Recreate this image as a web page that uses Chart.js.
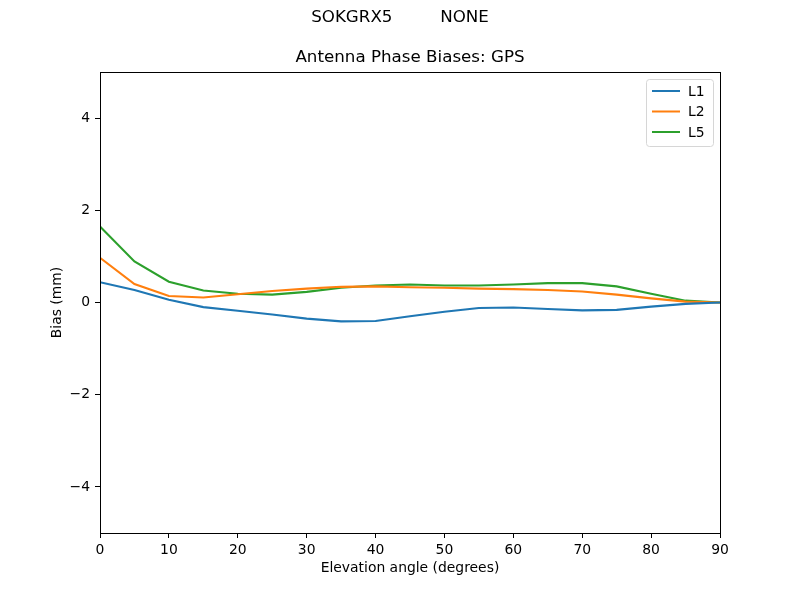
<!DOCTYPE html>
<html>
<head>
<meta charset="utf-8">
<script src="https://cdn.jsdelivr.net/npm/chart.js@4/dist/chart.umd.min.js"></script>
<style>
  html, body { margin: 0; padding: 0; background: #fff; }
</style>
</head>
<body>
<canvas id="chart" width="800" height="600"></canvas>
<script>
const elevation = [0, 5, 10, 15, 20, 25, 30, 35, 40, 45, 50, 55, 60, 65, 70, 75, 80, 85, 90];
const l1 = [0.44, 0.27, 0.06, -0.10, -0.18, -0.26, -0.35, -0.41, -0.40, -0.30, -0.20, -0.12, -0.11, -0.14, -0.17, -0.16, -0.09, -0.03, 0.0];
const l2 = [0.97, 0.40, 0.14, 0.11, 0.18, 0.25, 0.30, 0.34, 0.35, 0.33, 0.32, 0.30, 0.29, 0.27, 0.24, 0.17, 0.09, 0.02, 0.0];
const l5 = [1.65, 0.89, 0.45, 0.26, 0.19, 0.17, 0.23, 0.32, 0.37, 0.39, 0.37, 0.37, 0.39, 0.42, 0.42, 0.35, 0.19, 0.04, 0.0];
const yTicks = [-4, -2, 0, 2, 4];
const figTitle = 'SOKGRX5         NONE';
const axTitle = 'Antenna Phase Biases: GPS';

const FONT = 'DejaVu Sans';

function toPoints(ys) {
  return elevation.map((x, i) => ({ x: x, y: ys[i] }));
}

// box around the plot (matplotlib spines) + the two titles
const framePlugin = {
  id: 'frame',
  afterDatasetsDraw(chart) {
    const { ctx, chartArea: a } = chart;
    ctx.save();
    ctx.strokeStyle = '#000';
    ctx.lineWidth = 1;
    ctx.strokeRect(Math.round(a.left) + 0.5, Math.round(a.top) + 0.5,
      Math.round(a.right - a.left), Math.round(a.bottom - a.top));
    ctx.fillStyle = '#000';
    ctx.font = '16.7px ' + FONT;
    ctx.textAlign = 'center';
    ctx.textBaseline = 'middle';
    ctx.fillText(figTitle, chart.width / 2, 18);
    ctx.fillText(axTitle, (a.left + a.right) / 2, a.top - 14);
    ctx.restore();
  }
};

// legend in the upper right corner, inside the axes
const boxLegend = {
  id: 'boxLegend',
  afterDraw(chart) {
    const { ctx, chartArea: a } = chart;
    const sets = chart.data.datasets;
    const w = 67, h = 67;
    const x0 = a.right - 7 - w, y0 = a.top + 7;
    ctx.save();
    ctx.beginPath();
    ctx.roundRect(x0 + 0.5, y0 + 0.5, w, h, 3);
    ctx.fillStyle = 'rgba(255,255,255,0.8)';
    ctx.fill();
    ctx.strokeStyle = '#d6d6d6';
    ctx.lineWidth = 1;
    ctx.stroke();
    ctx.font = '13.9px ' + FONT;
    ctx.textBaseline = 'middle';
    ctx.textAlign = 'left';
    sets.forEach((ds, i) => {
      const yy = y0 + 12 + i * 20.5;
      ctx.beginPath();
      ctx.moveTo(x0 + 6, yy);
      ctx.lineTo(x0 + 34, yy);
      ctx.strokeStyle = ds.borderColor;
      ctx.lineWidth = 2;
      ctx.stroke();
      ctx.fillStyle = '#000';
      ctx.fillText(ds.label, x0 + 42, yy + 1);
    });
    ctx.restore();
  }
};

const lineStyle = { borderWidth: 2.1, pointRadius: 0, fill: false, tension: 0 };

new Chart(document.getElementById('chart').getContext('2d'), {
  type: 'line',
  data: {
    datasets: [
      { label: 'L1', data: toPoints(l1), borderColor: '#1f77b4', ...lineStyle },
      { label: 'L2', data: toPoints(l2), borderColor: '#ff7f0e', ...lineStyle },
      { label: 'L5', data: toPoints(l5), borderColor: '#2ca02c', ...lineStyle },
    ],
  },
  options: {
    responsive: false,
    animation: false,
    devicePixelRatio: 1,
    layout: { padding: { left: 0, right: 80, top: 72, bottom: 0 } },
    plugins: {
      legend: { display: false },
      tooltip: { enabled: false },
    },
    scales: {
      x: {
        type: 'linear',
        min: 0,
        max: 90,
        grid: { drawOnChartArea: false, color: '#000', tickColor: '#000', tickLength: 5 },
        border: { display: true, color: '#000' },
        ticks: {
          stepSize: 10,
          autoSkip: false,
          maxRotation: 0,
          padding: 4,
          color: '#000',
          font: { family: FONT, size: 13.9 },
        },
        title: {
          display: true,
          text: 'Elevation angle (degrees)',
          color: '#000',
          font: { family: FONT, size: 13.9 },
          padding: { top: 4, bottom: 23 },
        },
        afterFit(scale) { scale.height = 67; },
      },
      y: {
        min: -5,
        max: 5,
        grid: { drawOnChartArea: false, color: '#000', tickColor: '#000', tickLength: 5 },
        border: { display: true, color: '#000' },
        afterBuildTicks(scale) { scale.ticks = yTicks.map(v => ({ value: v })); },
        ticks: {
          padding: 5,
          color: '#000',
          font: { family: FONT, size: 13.9 },
          callback: v => String(v).replace('-', '\u2212'),
        },
        title: {
          display: true,
          text: 'Bias (mm)',
          color: '#000',
          font: { family: FONT, size: 13.9 },
          padding: { top: 49, bottom: 0 },
        },
        afterFit(scale) { scale.width = 100; },
      },
    },
  },
  plugins: [framePlugin, boxLegend],
});
</script>
</body>
</html>
